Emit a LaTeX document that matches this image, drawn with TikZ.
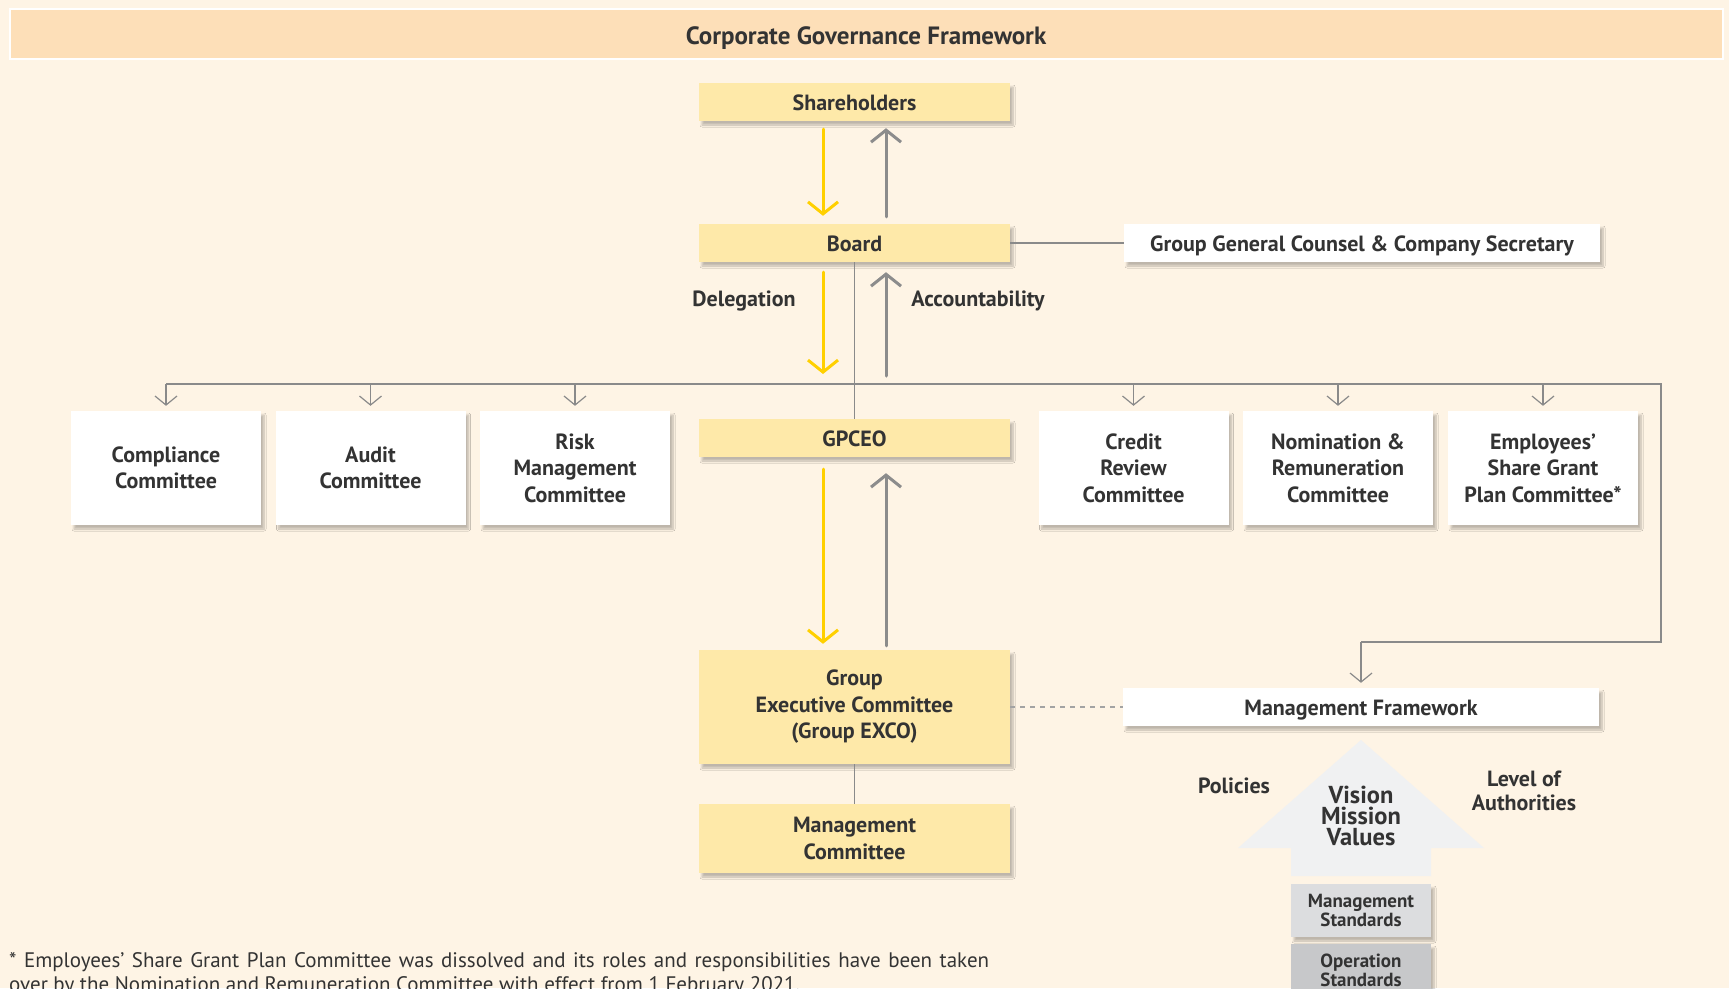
\documentclass[tikz,border=0pt]{standalone}
\usepackage{fontspec}
\setmainfont{PT Sans}
\usetikzlibrary{arrows.meta,calc,shadows.blur}
\definecolor{bg}{HTML}{FEF4E5}
\definecolor{band}{HTML}{FDDFB8}
\definecolor{ybox}{HTML}{FEE9A9}
\definecolor{yarr}{HTML}{FFD000}
\definecolor{garr}{HTML}{8C8C8C}
\definecolor{conncol}{HTML}{8A8A8A}
\definecolor{txt}{HTML}{333333}
\definecolor{bigarr}{HTML}{F0F1F2}
\definecolor{mstd}{HTML}{DCDDDF}
\definecolor{ostd}{HTML}{C7C8CA}
\begin{document}
\begin{tikzpicture}[x=1pt,y=-1pt,
  every node/.style={text=txt},
  boldtext/.style={font=\bfseries\fontsize{22}{26.5}\selectfont},
  oneline/.style={text height=16.8pt,text depth=0pt},
  shad/.style={blur shadow={shadow xshift=3pt,shadow yshift=-4pt,shadow blur steps=6,shadow opacity=25}},
  ybox/.style={boldtext,shad,fill=ybox,minimum width=311pt,inner sep=0pt,align=center},
  wbox/.style={boldtext,shad,fill=white,inner sep=0pt,align=center},
  cbox/.style={wbox,minimum width=190pt,minimum height=114pt},
  conn/.style={draw=conncol,line width=1.2pt},
  carr/.style={conn,-{Straight Barb[length=9pt,width=22pt,line width=1.2pt]},shorten >=5pt},
  yarrow/.style={draw=yarr,line width=3pt,-{Straight Barb[length=12pt,width=30pt,line width=3pt]},line cap=round},
  garrow/.style={draw=garr,line width=3pt,-{Straight Barb[length=12pt,width=30pt,line width=3pt]},line cap=round},
  lbl/.style={boldtext,oneline,inner sep=0pt}
]
\useasboundingbox (0,0) rectangle (1729,988);
\clip (0,0) rectangle (1729,988);
\fill[bg] (0,0) rectangle (1729,988);

% title band
\node[draw=white,line width=2pt,fill=band,minimum width=1713pt,minimum height=50pt,inner sep=0pt,
      text height=20pt,text depth=0pt,
      font=\bfseries\fontsize{25}{30}\selectfont] (title) at (866,34) {Corporate Governance Framework};

% main column
\node[ybox,oneline,minimum height=38pt] (sh) at (854.5,102) {Shareholders};
\node[ybox,oneline,minimum height=38pt] (board) at (854.5,243) {Board};
\node[ybox,oneline,minimum height=38pt] (gpceo) at (854.5,438) {GPCEO};
\node[ybox,minimum height=114pt] (exco) at (854.5,707) {Group\\Executive Committee\\(Group EXCO)};
\node[ybox,minimum height=69pt] (mc) at (854.5,838.5) {Management\\Committee};

\node[wbox,oneline,minimum width=476pt,minimum height=38pt] (ggc) at (1362,243) {Group General Counsel \& Company Secretary};
\node[wbox,oneline,minimum width=476pt,minimum height=38pt] (mf) at (1361,707) {Management Framework};

% committees
\node[cbox] (comp) at (166,468) {Compliance\\Committee};
\node[cbox] (audit) at (370.5,468) {Audit\\Committee};
\node[cbox] (risk) at (575,468) {Risk\\Management\\Committee};
\node[cbox] (credit) at (1133.5,468) {Credit\\Review\\Committee};
\node[cbox] (nom) at (1338,468) {Nomination \&\\Remuneration\\Committee};
\node[cbox] (esg) at (1543,468) {Employees’\\Share Grant\\Plan Committee*};

% connectors
\coordinate (busL) at (166,384);
\coordinate (busR) at (1661,384);
\coordinate (busRD) at (1661,642);
\coordinate (mfin) at (1361,642);
\draw[conn] (busL) -- (busR) -- (busRD) -- (mfin);
\draw[carr] (mfin) -- (mf.north);
\foreach \c in {comp,audit,risk,credit,nom,esg}{
  \draw[carr] (\c.north |- busL) -- (\c.north);
}
\draw[conn] (board.south) -- (gpceo.north);
\draw[conn] (board.east) -- (ggc.west);
\draw[conn] (exco.south) -- (mc.north);
\draw[draw=garr!80,line width=1.2pt,dash pattern=on 5pt off 5pt] (exco.east) -- (mf.west);

% delegation / accountability arrows
\draw[yarrow] ($(sh.south)+(-31.5,8)$) -- ($(board.north)+(-31.5,-8)$);
\draw[garrow] ($(board.north)+(31.5,-7)$) -- ($(sh.south)+(31.5,7)$);
\draw[yarrow] ($(board.south)+(-31.5,10)$) -- ($(busL -| board.south)+(-31.5,-10)$);
\draw[garrow] ($(busL -| board.south)+(31.5,-8)$) -- ($(board.south)+(31.5,10)$);
\draw[yarrow] ($(gpceo.south)+(-31.5,12)$) -- ($(exco.north)+(-31.5,-6)$);
\draw[garrow] ($(exco.north)+(31.5,-4)$) -- ($(gpceo.south)+(31.5,16)$);

\node[lbl] (deleg) at (744,298.5) {Delegation};
\node[lbl] (acc) at (978,298.5) {Accountability};

% management framework arrow
\fill[bigarr] (1361,740) -- (1484,848) -- (1431,848) -- (1431,876) -- (1291,876) -- (1291,848) -- (1238,848) -- cycle;
\node[font=\bfseries\fontsize{24.5}{21}\selectfont,align=center] (vmv) at (1361,816) {Vision\\Mission\\Values};
\node[lbl] (pol) at (1234,785) {Policies};
\node[align=center,font=\bfseries\fontsize{22}{24.5}\selectfont] (loa) at (1524,791) {Level of\\Authorities};
\node[shad,fill=mstd,minimum width=140pt,minimum height=53pt,inner sep=0pt,align=center,
      font=\bfseries\fontsize{19}{18.5}\selectfont] (ms) at (1361,910.5) {Management\\Standards};
\node[shad,fill=ostd,minimum width=140pt,minimum height=53pt,inner sep=0pt,align=center,
      font=\bfseries\fontsize{19}{18.5}\selectfont] (os) at (1361,970.5) {Operation\\Standards};

% footnote
\node[anchor=north west,inner sep=0pt,text width=980pt,align=justify,
      font=\fontsize{21}{24.5}\selectfont] (fn) at (9,952)
  {* Employees’ Share Grant Plan Committee was dissolved and its roles and responsibilities have been taken\linebreak
   over by the Nomination and Remuneration Committee with effect from 1 February 2021.};
\end{tikzpicture}
\end{document}
